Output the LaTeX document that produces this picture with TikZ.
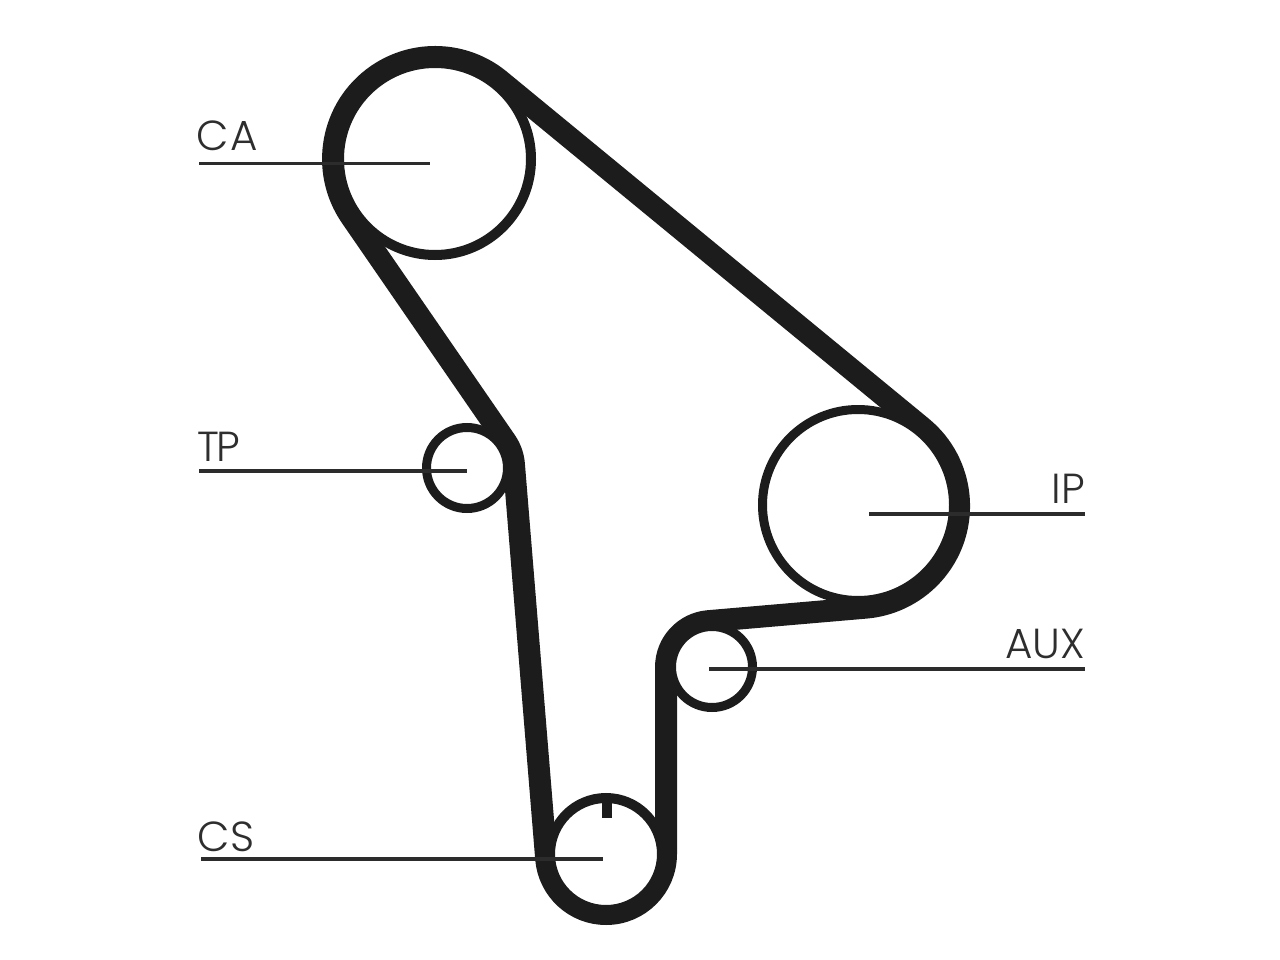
\documentclass[tikz,border=0pt]{standalone}
\usepackage{fontspec}
\newfontfamily\lab{Poppins Light}
\definecolor{ink}{HTML}{1C1C1C}
\definecolor{leadc}{HTML}{2C2C2C}
\definecolor{txt}{HTML}{2E2E2E}
\tikzset{
  pulley/.style={circle,draw=ink,inner sep=0pt,fill=white},
  belt/.style={draw=ink,line width=22pt,line join=round},
  leader/.style={draw=leadc,line width=3.6pt},
  lbl/.style={inner sep=0pt,text=txt,font=\lab\fontsize{42}{42}\selectfont}
}
\begin{document}
\begin{tikzpicture}[x=1pt,y=1pt]
\useasboundingbox (0,0) rectangle (1280,-960);
\fill[white] (0,0) rectangle (1280,-960);
% belt
\draw[belt] (351.1,-216.9) arc[start angle=214.6,end angle=50.6,radius=102pt]
  -- (921.8,-427.2) arc[start angle=50.6,end angle=-85.1,radius=102pt]
  -- (708.1,-621.2) arc[start angle=94.9,end angle=180,radius=46pt]
  -- (666,-854) arc[start angle=0,end angle=-175.3,radius=60pt]
  -- (513.9,-464.1) arc[start angle=4.7,end angle=34.6,radius=47pt]
  -- cycle;
% pulleys
\node[pulley,line width=10pt,minimum size=192pt] (ca) at (435,-159) {};
\node[pulley,line width=9pt,minimum size=191pt] (ip) at (858,-505) {};
\node[pulley,line width=9pt,minimum size=81pt] (tp) at (467,-468) {};
\node[pulley,line width=9pt,minimum size=81pt] (aux) at (712,-667) {};
\node[pulley,line width=10pt,minimum size=112pt] (cs) at (606,-854) {};
% timing mark
\coordinate (marktop) at (607,-796);
\coordinate (markend) at (607,-818);
\draw[ink,line width=10pt] (marktop) -- (markend);
% leaders
\coordinate (caL) at (199,-163.5); \coordinate (caR) at (430,-163.5);
\coordinate (tpL) at (199,-471);   \coordinate (tpR) at (467,-471);
\coordinate (csL) at (201,-859);   \coordinate (csR) at (603,-859);
\coordinate (ipL) at (869,-514);   \coordinate (ipR) at (1085,-514);
\coordinate (auxL) at (709,-669);  \coordinate (auxR) at (1085,-669);
\draw[leader] (caL) -- (caR);
\draw[leader] (tpL) -- (tpR);
\draw[leader] (csL) -- (csR);
\draw[leader] (ipL) -- (ipR);
\draw[leader] (auxL) -- (auxR);
% labels
\node[lbl,anchor=base west] (tca) at (196,-151) {C\kern2pt A};
\node[lbl,anchor=base west] (ttp) at (197,-461) {T\kern-3pt P};
\node[lbl,anchor=base west] (tcs) at (197,-851) {C\kern1pt S};
\node[lbl,anchor=base east] (tip) at (1085,-503) {IP};
\node[lbl,anchor=base east] (taux) at (1085,-658) {AUX};
\end{tikzpicture}
\end{document}
